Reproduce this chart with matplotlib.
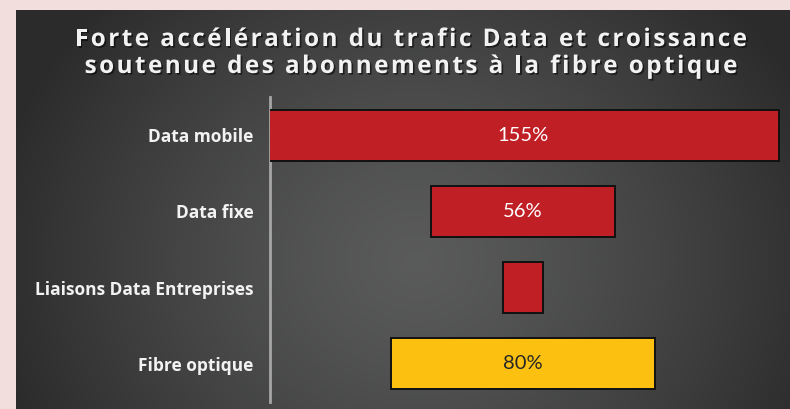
import numpy as np
import matplotlib
matplotlib.use("Agg")
import matplotlib.pyplot as plt
from matplotlib import patheffects
from matplotlib.font_manager import FontProperties, findfont, get_font
from matplotlib.ft2font import LOAD_NO_HINTING

# --- data -----------------------------------------------------------------
categories = ["Data mobile", "Data fixe", "Liaisons Data Entreprises", "Fibre optique"]
growth_pct = [155, 56, 12, 80]
bar_colors = ["#c01f26", "#c01f26", "#c01f26", "#fcc010"]
label_colors = ["#ffffff", "#ffffff", "#ffffff", "#262626"]
title_lines = ["Forte accélération du trafic Data et croissance",
               "soutenue des abonnements à la fibre optique"]

W, H, DPI = 790, 409, 100
fig = plt.figure(figsize=(W / DPI, H / DPI), dpi=DPI)
fig.patch.set_facecolor("#f3dede")

# --- dark panel with a soft radial gradient --------------------------------
px0, py0 = 16, 10                       # panel top-left corner (pixels)
bg = fig.add_axes([px0 / W, 0, 1 - px0 / W, 1 - py0 / H])
bg.set_axis_off()
nx, ny = W - px0, H - py0
xx, yy = np.meshgrid(np.arange(nx), np.arange(ny))
cx, cy = 400, 250
r = np.sqrt(((xx - cx) / 430.0) ** 2 + ((yy - cy) / 380.0) ** 2)
r = np.clip(r, 0, 1)
c_in, c_out = 0x5a, 0x2b
val = (c_in + (c_out - c_in) * r ** 1.3) / 255.0
img = np.dstack([val, val * 1.005, val * 1.005])
bg.imshow(np.clip(img, 0, 1), aspect="auto", interpolation="bilinear")

# --- bars (centred funnel) ---------------------------------------------------
scale = 3.3                             # pixels per percentage point
ax_l, ax_r, ax_t, ax_b = 270, 790, 97, 402
centre = 523
ax = fig.add_axes([ax_l / W, 1 - ax_b / H, (ax_r - ax_l) / W, (ax_b - ax_t) / H])
ax.set_facecolor("none")
ax.set_xlim(-(centre - ax_l) / scale, (ax_r - centre) / scale)
ax.set_ylim(len(categories) - 0.5, -0.5)

ypos = np.arange(len(categories))
vals = np.array(growth_pct, dtype=float)
ax.barh(ypos, vals, left=-vals / 2, height=0.67, color=bar_colors,
        edgecolor="#111111", linewidth=1.4, zorder=3)

value_font = dict(family=["Lato", "DejaVu Sans"], weight="normal", size=14.5)
for y, v, col in zip(ypos, growth_pct, label_colors):
    if v >= 20:
        ax.text(0, y, f"{v}%", ha="center", va="center", color=col,
                zorder=4, **value_font)

for side in ("top", "right", "bottom"):
    ax.spines[side].set_visible(False)
ax.spines["left"].set_color("#a6a6a6")
ax.spines["left"].set_linewidth(2)
ax.set_xticks([])
ax.set_yticks(ypos)
ax.set_yticklabels(categories, family=["Open Sans", "DejaVu Sans"], weight="bold",
                   fontsize=12.5, color="#f2f2f2")
ax.tick_params(axis="y", length=0, pad=12)

# --- letter-spaced title -------------------------------------------------------
title_prop = FontProperties(family="Open Sans", weight="bold", size=17.5)
tfont = get_font(findfont(title_prop))
tfont.set_size(title_prop.get_size_in_points(), DPI)


def natural_advances(text):
    out = []
    for ch in text:
        g = tfont.load_char(ord(ch), flags=LOAD_NO_HINTING)
        out.append(g.linearHoriAdvance / 65536.0)
    return out


# spread the first line over 672 px and reuse the same letter spacing below
first = natural_advances(title_lines[0])
tracking = (672 - sum(first)) / (len(title_lines[0]) - 1)

shadow = [patheffects.SimplePatchShadow(offset=(1.2, -1.2), shadow_rgbFace="black",
                                        alpha=0.55),
          patheffects.Normal()]
for line, base_y in zip(title_lines, [46, 73]):
    adv = [a + tracking for a in natural_advances(line)]
    total = sum(adv) - tracking
    x = 411 - total / 2
    for ch, a in zip(line, adv):
        if ch != " ":
            fig.text(x / W, 1 - base_y / H, ch, fontproperties=title_prop,
                     color="#f2f2f2", ha="left", va="baseline",
                     path_effects=shadow)
        x += a

fig.savefig("out.png", dpi=DPI, facecolor=fig.get_facecolor())
